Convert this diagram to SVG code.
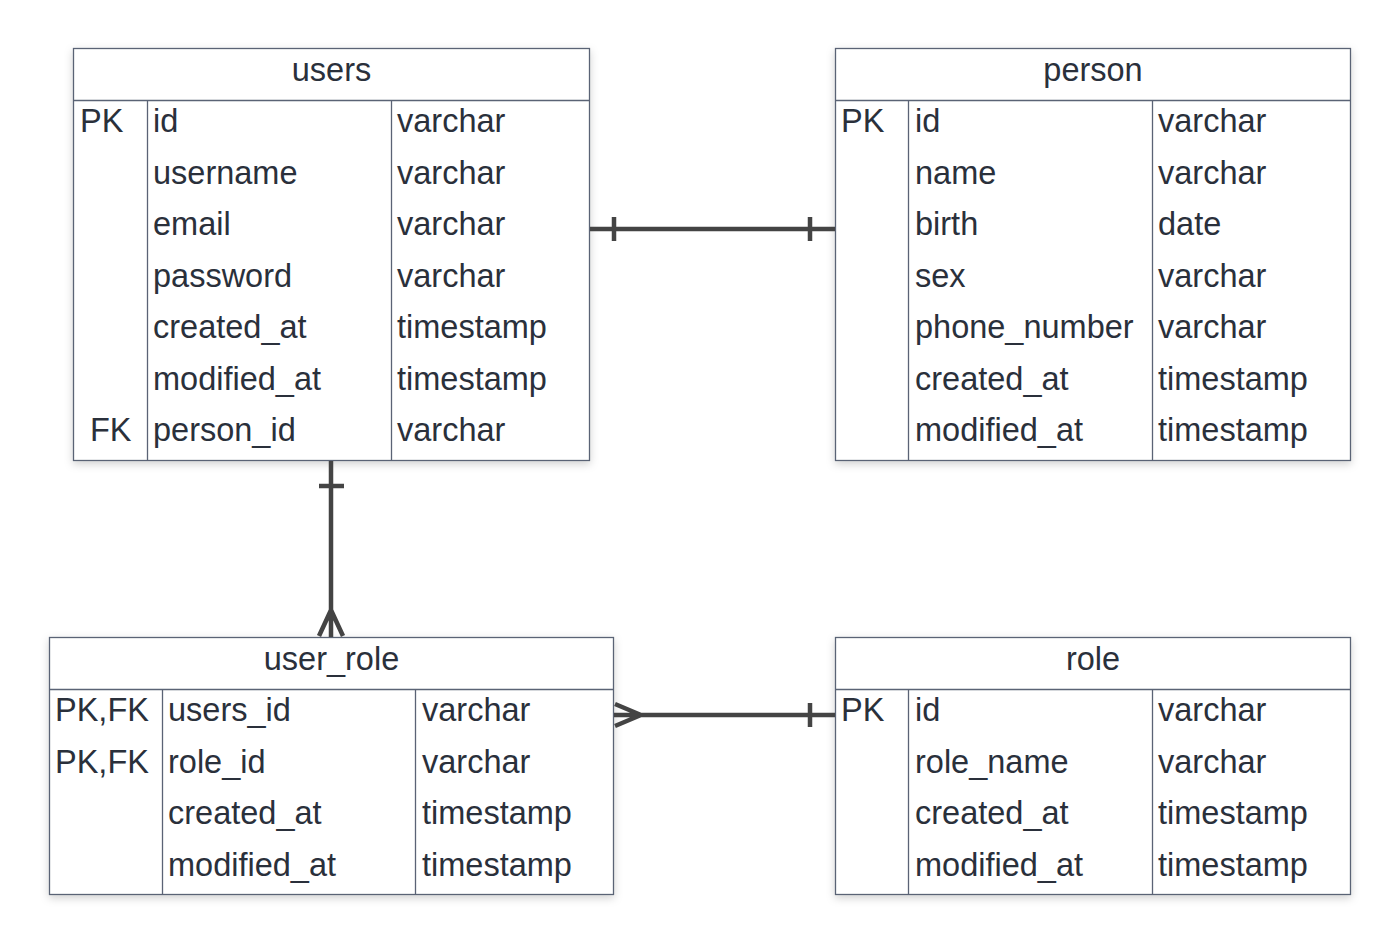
<svg xmlns="http://www.w3.org/2000/svg" width="1400" height="945" viewBox="0 0 1400 945">
<style>
.box{fill:#fff;stroke:#5a6375;stroke-width:1.3}
.ln{stroke:#5a6375;stroke-width:1.3;fill:none}
.t{font-family:"Liberation Sans",Arial,sans-serif;font-size:32.5px;fill:#2a303b}
.h{text-anchor:middle}
.c{stroke:#444;stroke-width:4.5;fill:none;stroke-linecap:butt}
</style>
<defs>
<filter id="sh" x="-5%" y="-5%" width="110%" height="115%">
<feDropShadow dx="0" dy="3" stdDeviation="4" flood-color="#000" flood-opacity="0.18"/>
</filter>
</defs>
<rect width="1400" height="945" fill="#fff"/>
<g id="users">
<rect class="box" x="73.5" y="48.5" width="516" height="412" filter="url(#sh)"/>
<path class="ln" d="M73.5 100.5H589.5M147.5 100.5V460.5M391.5 100.5V460.5"/>
<text class="t h" x="331.5" y="81">users</text>
<text class="t" x="80" y="132">PK</text><text class="t" x="153" y="132">id</text><text class="t" x="397" y="132">varchar</text>
<text class="t" x="153" y="184">username</text><text class="t" x="397" y="184">varchar</text>
<text class="t" x="153" y="235">email</text><text class="t" x="397" y="235">varchar</text>
<text class="t" x="153" y="287">password</text><text class="t" x="397" y="287">varchar</text>
<text class="t" x="153" y="338">created_at</text><text class="t" x="397" y="338">timestamp</text>
<text class="t" x="153" y="390">modified_at</text><text class="t" x="397" y="390">timestamp</text>
<text class="t" x="90" y="441">FK</text><text class="t" x="153" y="441">person_id</text><text class="t" x="397" y="441">varchar</text>
</g>
<g id="person">
<rect class="box" x="835.5" y="48.5" width="515" height="412" filter="url(#sh)"/>
<path class="ln" d="M835.5 100.5H1350.5M908.5 100.5V460.5M1152.5 100.5V460.5"/>
<text class="t h" x="1093" y="81">person</text>
<text class="t" x="841" y="132">PK</text><text class="t" x="915" y="132">id</text><text class="t" x="1158" y="132">varchar</text>
<text class="t" x="915" y="184">name</text><text class="t" x="1158" y="184">varchar</text>
<text class="t" x="915" y="235">birth</text><text class="t" x="1158" y="235">date</text>
<text class="t" x="915" y="287">sex</text><text class="t" x="1158" y="287">varchar</text>
<text class="t" x="915" y="338">phone_number</text><text class="t" x="1158" y="338">varchar</text>
<text class="t" x="915" y="390">created_at</text><text class="t" x="1158" y="390">timestamp</text>
<text class="t" x="915" y="441">modified_at</text><text class="t" x="1158" y="441">timestamp</text>
</g>
<g id="user_role">
<rect class="box" x="49.5" y="637.5" width="564" height="257" filter="url(#sh)"/>
<path class="ln" d="M49.5 689.5H613.5M162.5 689.5V894.5M415.5 689.5V894.5"/>
<text class="t h" x="331.5" y="670">user_role</text>
<text class="t" x="55" y="721">PK,FK</text><text class="t" x="168" y="721">users_id</text><text class="t" x="422" y="721">varchar</text>
<text class="t" x="55" y="773">PK,FK</text><text class="t" x="168" y="773">role_id</text><text class="t" x="422" y="773">varchar</text>
<text class="t" x="168" y="824">created_at</text><text class="t" x="422" y="824">timestamp</text>
<text class="t" x="168" y="876">modified_at</text><text class="t" x="422" y="876">timestamp</text>
</g>
<g id="role">
<rect class="box" x="835.5" y="637.5" width="515" height="257" filter="url(#sh)"/>
<path class="ln" d="M835.5 689.5H1350.5M908.5 689.5V894.5M1152.5 689.5V894.5"/>
<text class="t h" x="1093" y="670">role</text>
<text class="t" x="841" y="721">PK</text><text class="t" x="915" y="721">id</text><text class="t" x="1158" y="721">varchar</text>
<text class="t" x="915" y="773">role_name</text><text class="t" x="1158" y="773">varchar</text>
<text class="t" x="915" y="824">created_at</text><text class="t" x="1158" y="824">timestamp</text>
<text class="t" x="915" y="876">modified_at</text><text class="t" x="1158" y="876">timestamp</text>
</g>
<g id="connectors">
<path class="c" d="M590 229H835M614 217V241M810 217V241"/>
<path class="c" d="M331 461V637M319 486H344M331 610L319 636M331 610L343 636"/>
<path class="c" d="M614 715H835M810 703V727M641 715L615 704M641 715L615 726"/>
</g>
</svg>
